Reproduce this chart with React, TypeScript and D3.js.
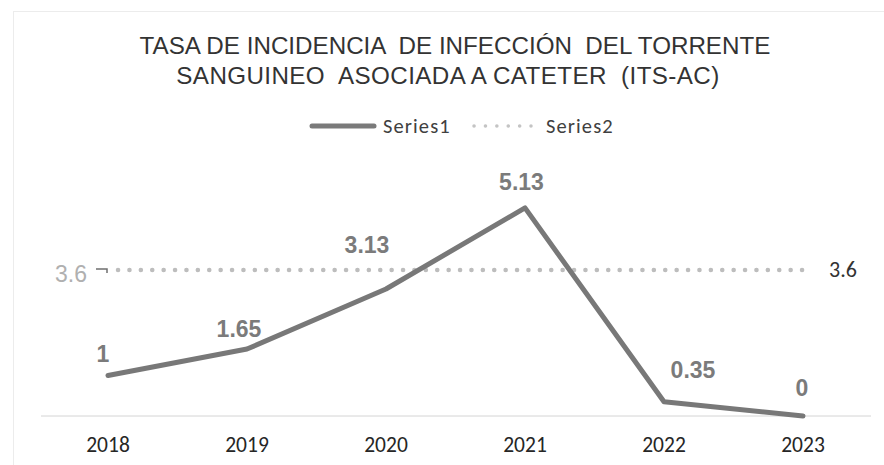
import React from "react";
import * as d3 from "d3";

const categories = ["2018", "2019", "2020", "2021", "2022", "2023"];
const series1 = [1, 1.65, 3.13, 5.13, 0.35, 0];
const series2 = [3.6, 3.6, 3.6, 3.6, 3.6, 3.6];
const seriesNames = ["Series1", "Series2"];
const titleLines = [
  "TASA DE INCIDENCIA  DE INFECCIÓN  DEL TORRENTE",
  "SANGUINEO  ASOCIADA A CATETER  (ITS-AC)",
];
const yDomain = [0, 6];

// label placement offsets (layout only)
const labelOffsets: [number, number][] = [
  [-5, -13],
  [-8, -12],
  [-19, -36],
  [-3.5, -18],
  [29, -24],
  [-1, -20],
];
const titleLayout = [
  { cx: 455, spacing: 0 },
  { cx: 448, spacing: 0.4 },
];

const W = 884;
const H = 465;
const plot = { left: 38.5, right: 872.5, top: 172.6, bottom: 416 };

const sansFont = "'Liberation Sans', Arial, sans-serif";
const bodyFont = "Carlito, Lato, 'Open Sans', sans-serif";

export default function App() {
  const x = d3
    .scalePoint<string>()
    .domain(categories)
    .range([plot.left, plot.right])
    .padding(0.5);
  const y = d3.scaleLinear().domain(yDomain).range([plot.bottom, plot.top]);

  const line = d3
    .line<number>()
    .x((_, i) => x(categories[i]) as number)
    .y((d) => y(d));

  const lastX = x(categories[categories.length - 1]) as number;
  const firstX = x(categories[0]) as number;
  const refY = y(series2[0]);

  return (
    <svg
      width={W}
      height={H}
      style={{ position: "absolute", left: 0, top: 0, background: "#fff" }}
    >
      <rect x={0} y={0} width={W} height={H} fill="#fff" />
      <rect
        x={13.5}
        y={11.5}
        width={W + 20}
        height={H + 20}
        fill="none"
        stroke="#ececec"
        strokeWidth={1}
      />

      {titleLines.map((t, i) => (
        <text
          key={i}
          x={titleLayout[i].cx}
          y={54 + i * 30}
          textAnchor="middle"
          fontFamily={sansFont}
          fontSize={24.2}
          letterSpacing={titleLayout[i].spacing}
          fill="#333"
          style={{ whiteSpace: "pre" }}
        >
          {t}
        </text>
      ))}

      {/* legend */}
      <g>
        <line
          x1={312}
          x2={374}
          y1={126}
          y2={126}
          stroke="#7a7a7a"
          strokeWidth={5}
          strokeLinecap="round"
        />
        <text
          x={383}
          y={133}
          fontFamily={bodyFont}
          fontSize={20.5}
          letterSpacing={1.1}
          fill="#404040"
        >
          {seriesNames[0]}
        </text>
        <line
          x1={474}
          x2={531}
          y1={126}
          y2={126}
          stroke="#c4c4c4"
          strokeWidth={3.5}
          strokeLinecap="round"
          strokeDasharray="0.1 11.3"
        />
        <text
          x={546}
          y={133}
          fontFamily={bodyFont}
          fontSize={20.5}
          letterSpacing={1.1}
          fill="#404040"
        >
          {seriesNames[1]}
        </text>
      </g>

      {/* axis baseline */}
      <line
        x1={41}
        x2={871}
        y1={y(0)}
        y2={y(0)}
        stroke="#d4d4d4"
        strokeWidth={1}
      />

      {categories.map((c) => (
        <text
          key={c}
          x={x(c)}
          y={452}
          textAnchor="middle"
          fontFamily={bodyFont}
          fontSize={21.5}
          fill="#262626"
        >
          {c}
        </text>
      ))}

      {/* series2 dotted */}
      <path
        d={line(series2) || ""}
        fill="none"
        stroke="#bdbdbd"
        strokeWidth={4.5}
        strokeLinecap="round"
        strokeDasharray="0.1 11.3"
        transform="translate(10,0)"
      />
      <path
        d={`M${firstX - 12},${refY - 1}H${firstX - 1}v4`}
        fill="none"
        stroke="#6f6f6f"
        strokeWidth={1.5}
      />
      <text
        x={firstX - 37}
        y={refY + 12}
        textAnchor="middle"
        fontFamily={sansFont}
        fontSize={23}
        fill="#b0b0b0"
      >
        {series2[0]}
      </text>
      <text
        x={lastX + 40}
        y={refY + 7}
        textAnchor="middle"
        fontFamily={bodyFont}
        fontSize={22}
        fill="#333"
      >
        {series2[series2.length - 1]}
      </text>

      {/* series1 line */}
      <path
        d={line(series1) || ""}
        fill="none"
        stroke="#787878"
        strokeWidth={5}
        strokeLinejoin="round"
        strokeLinecap="round"
      />
      {series1.map((v, i) => (
        <text
          key={i}
          x={(x(categories[i]) as number) + labelOffsets[i][0]}
          y={y(v) + labelOffsets[i][1]}
          textAnchor="middle"
          fontFamily={sansFont}
          fontWeight="bold"
          fontSize={23}
          fill="#7b7b7b"
        >
          {v}
        </text>
      ))}
    </svg>
  );
}
